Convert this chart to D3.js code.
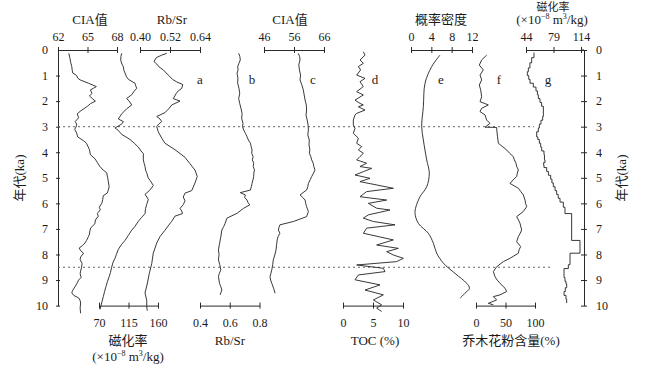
<!DOCTYPE html>
<html>
<head>
<meta charset="utf-8">
<script src="https://cdn.jsdelivr.net/npm/d3@7"></script>
<style>
  body { margin: 0; background: #fff; }
  text { font-family: "Liberation Serif", "Times New Roman", "Noto Sans CJK SC", serif; fill: #1a1a1a; }
  .domain, .tick line { stroke: #2a2a2a; }
</style>
</head>
<body>
<div id="chart"></div>
<script>
// Profile diagram: age (ka) on the vertical axis, seven proxies a-g side by side

var width = 650;
var height = 367;

// ---- data ----
var ageTicks = [0, 1, 2, 3, 4, 5, 6, 7, 8, 9, 10];
var dashedAges = [3, 8.5];
var panelLetters = ["a", "b", "c", "d", "e", "f", "g"];

// a: CIA (62-68)
var aCiaAge = [0.13, 0.3, 0.5, 0.65, 0.8, 0.9, 1.0, 1.1, 1.17, 1.3, 1.43, 1.5, 1.56, 1.7, 1.8, 1.9, 2.0, 2.1, 2.2, 2.4,
  2.5, 2.65, 2.8, 2.9, 3.0, 3.1, 3.25, 3.4, 3.55, 3.65, 3.9, 4.1, 4.25, 4.4, 4.55, 4.7, 4.8, 5.0, 5.1, 5.35, 5.5, 5.6,
  5.7, 5.85, 6.0, 6.15, 6.25, 6.4, 6.5, 6.65, 6.8, 6.95, 7.05, 7.2, 7.3, 7.45, 7.55, 7.65, 7.75, 7.85, 7.95, 8.1, 8.2,
  8.35, 8.5, 8.65, 8.75, 8.9, 9.0, 9.15, 9.25, 9.4, 9.5, 9.6, 9.7, 9.8, 9.9, 10.1, 10.3];
var aCiaVal = [63.1, 63.2, 63.3, 63.4, 63.45, 63.5, 63.9, 64.0, 64.25, 65.1, 65.9, 65.6, 65.3, 65.45, 65.2, 65.5, 65.8,
  65.3, 65.0, 64.25, 63.95, 64.1, 63.75, 63.9, 63.85, 63.7, 63.9, 64.0, 64.6, 64.9, 65.2, 65.3, 65.75, 66.0, 66.25,
  66.6, 66.95, 67.05, 67.1, 67.2, 67.1, 67.0, 66.6, 66.55, 66.45, 66.2, 66.3, 66.0, 66.1, 65.8, 65.75, 65.35, 65.25,
  65.2, 65.1, 64.9, 64.75, 64.5, 64.15, 64.3, 64.6, 64.3, 64.25, 64.45, 64.4, 64.3, 64.25, 64.35, 64.1, 63.9, 63.75,
  63.5, 63.4, 63.6, 64.1, 64.25, 64.3, 64.25, 64.3];

// a: magnetic susceptibility (70-160)
var aMsAge = [0.13, 0.25, 0.4, 0.55, 0.65, 0.8, 0.9, 1.05, 1.15, 1.3, 1.4, 1.5, 1.6, 1.75, 1.9, 2.0, 2.15, 2.3, 2.5,
  2.6, 2.7, 2.8, 2.9, 3.05, 3.1, 3.15, 3.3, 3.5, 3.65, 3.8, 3.95, 4.05, 4.3, 4.45, 4.55, 4.7, 4.8, 5.0, 5.1, 5.3, 5.4,
  5.5, 5.65, 5.75, 5.85, 6.05, 6.2, 6.4, 6.55, 6.7, 6.9, 7.05, 7.25, 7.45, 7.6, 7.8, 8.0, 8.15, 8.3, 8.5, 8.7, 8.85,
  9.05, 9.25, 9.45, 9.65, 9.85, 10.0, 10.15];
var aMsVal = [104.6, 103.5, 103.1, 105, 107.1, 108, 109.7, 112, 114.8, 124.9, 126, 127.5, 124, 119.9, 112.2, 116, 119.9,
  112.2, 104.6, 102, 99.5, 107.1, 104.6, 94.4, 97, 99.5, 104.6, 117.3, 124, 130, 134, 137.6, 137.6, 139, 140.2, 141,
  142.7, 145, 147.8, 152.9, 150, 146.8, 140.2, 143, 145.2, 142.7, 141, 140.2, 135, 130, 124.9, 119.9, 114.8, 109.7,
  104.6, 99.5, 96.5, 94.4, 91.5, 89.3, 87.5, 85.8, 83, 80.7, 78.5, 76.6, 74.5, 73.1, 71.5];

// a: Rb/Sr (0.40-0.64)
var aRbAge = [0.13, 0.2, 0.3, 0.45, 0.55, 0.65, 0.78, 0.9, 1.05, 1.15, 1.25, 1.35, 1.5, 1.6, 1.7, 1.9, 2.0, 2.15, 2.3,
  2.45, 2.6, 2.7, 2.8, 2.9, 3.0, 3.2, 3.45, 3.65, 3.9, 4.05, 4.2, 4.45, 4.7, 4.95, 5.2, 5.5, 5.6, 5.75, 5.9, 6.05, 6.2,
  6.3, 6.4, 6.5, 6.7, 6.85, 7.05, 7.3, 7.55, 7.95, 8.35, 8.75, 9.15, 9.5, 9.8, 10.05, 10.2];
var aRbVal = [0.507, 0.487, 0.465, 0.456, 0.467, 0.475, 0.493, 0.505, 0.52, 0.53, 0.547, 0.571, 0.567, 0.553, 0.545,
  0.533, 0.56, 0.527, 0.515, 0.50, 0.467, 0.48, 0.487, 0.475, 0.467, 0.473, 0.487, 0.50, 0.54, 0.56, 0.58, 0.60, 0.62,
  0.629, 0.62, 0.607, 0.58, 0.573, 0.58, 0.573, 0.56, 0.567, 0.57, 0.54, 0.527, 0.515, 0.50, 0.48, 0.467, 0.453,
  0.447, 0.437, 0.429, 0.42, 0.427, 0.427, 0.429];

// b: Rb/Sr (0.4-0.8)
var bAge = [0.13, 0.26, 0.39, 0.52, 0.65, 0.78, 0.91, 1.1, 1.3, 1.5, 1.7, 1.9, 2.09, 2.3, 2.48, 2.67, 2.87, 3.0, 3.13,
  3.26, 3.39, 3.52, 3.65, 3.78, 3.91, 4.04, 4.17, 4.3, 4.43, 4.56, 4.69, 4.82, 4.95, 5.08, 5.22, 5.35, 5.48, 5.58,
  5.67, 5.77, 5.87, 5.96, 6.06, 6.19, 6.39, 6.58, 6.78, 6.9, 7.04, 7.24, 7.43, 7.62, 7.82, 8.0, 8.21, 8.4, 8.6, 8.74,
  8.87, 9.0, 9.13, 9.26, 9.39, 9.5, 9.58];
var bVal = [0.660, 0.668, 0.671, 0.662, 0.653, 0.656, 0.649, 0.655, 0.653, 0.662, 0.667, 0.660, 0.667, 0.676, 0.683,
  0.680, 0.689, 0.686, 0.694, 0.705, 0.716, 0.725, 0.739, 0.744, 0.750, 0.748, 0.757, 0.752, 0.761, 0.758, 0.766,
  0.762, 0.761, 0.756, 0.750, 0.745, 0.739, 0.671, 0.705, 0.700, 0.716, 0.722, 0.734, 0.694, 0.649, 0.581, 0.569,
  0.560, 0.547, 0.542, 0.536, 0.530, 0.524, 0.528, 0.524, 0.533, 0.540, 0.530, 0.524, 0.528, 0.531, 0.540, 0.547,
  0.540, 0.536];

// c: CIA (46-66)
var cAge = [0.13, 0.26, 0.39, 0.58, 0.78, 0.98, 1.17, 1.36, 1.56, 1.76, 1.96, 2.15, 2.35, 2.55, 2.74, 2.94, 3.13, 3.32,
  3.52, 3.71, 3.91, 4.04, 4.17, 4.3, 4.43, 4.56, 4.69, 4.82, 4.95, 5.08, 5.22, 5.35, 5.48, 5.58, 5.67, 5.77, 5.87,
  6.0, 6.13, 6.32, 6.52, 6.71, 6.84, 6.94, 7.04, 7.17, 7.3, 7.43, 7.62, 7.82, 8.02, 8.21, 8.4, 8.6, 8.74, 8.87, 9.0,
  9.13, 9.32, 9.52];
var cVal = [57.4, 57.9, 58.0, 57.6, 57.8, 58.2, 58.0, 58.6, 59.1, 59.4, 59.7, 60.1, 60.2, 60.0, 60.4, 60.7, 60.8, 60.6,
  61.1, 61.0, 61.3, 61.1, 61.6, 61.9, 62.4, 62.6, 63.0, 62.5, 61.9, 61.4, 60.8, 60.6, 60.2, 59.0, 58.0, 58.9, 59.7,
  59.9, 60.2, 60.8, 60.2, 55.8, 51.3, 51.0, 50.8, 51.3, 50.7, 50.4, 50.2, 50.0, 49.6, 49.1, 48.9, 48.6, 48.3, 48.0,
  48.2, 48.6, 49.2, 49.7];

// d: TOC (%)
var dAge = [0.07, 0.2, 0.39, 0.52, 0.65, 0.78, 0.98, 1.11, 1.24, 1.43, 1.63, 1.76, 1.96, 2.09, 2.15, 2.22, 2.35, 2.48,
  2.54, 2.74, 2.93, 3.06, 3.26, 3.45, 3.65, 3.78, 3.91, 4.04, 4.17, 4.3, 4.43, 4.56, 4.63, 4.76, 4.89, 5.02, 5.15,
  5.41, 5.54, 5.74, 5.87, 6.0, 6.19, 6.26, 6.45, 6.58, 6.71, 6.84, 6.97, 7.17, 7.43, 7.63, 7.76, 7.89, 8.02, 8.15,
  8.28, 8.41, 8.54, 8.67, 8.8, 8.99, 9.19, 9.39, 9.58, 9.78, 9.97, 10.1, 10.23];
var dVal = [3.39, 3.67, 2.83, 3.39, 2.56, 2.94, 2.28, 3.67, 2.83, 3.39, 2.28, 3.39, 2.0, 2.83, 3.39, 2.56, 3.67, 2.28,
  2.0, 1.72, 1.72, 2.0, 1.72, 2.56, 2.28, 3.11, 2.56, 3.39, 2.83, 2.28, 3.94, 2.83, 4.78, 3.39, 2.0, 4.5, 2.83, 8.39,
  3.94, 2.83, 7.28, 4.22, 5.61, 7.83, 4.22, 3.39, 5.06, 8.67, 3.94, 3.39, 8.39, 5.61, 9.22, 7.28, 8.39, 10.06, 8.94,
  2.28, 6.72, 7.0, 2.56, 2.0, 6.17, 3.67, 6.72, 5.06, 6.44, 5.61, 6.44];

// e: probability density (0-12)
var eAge = [0.2, 0.65, 1.3, 2.22, 3.0, 3.52, 4.3, 4.82, 5.35, 5.74, 6.13, 6.39, 6.78, 7.17, 7.56, 7.95, 8.34, 8.74,
  9.13, 9.32, 9.52, 9.71];
var eVal = [5.7, 4.07, 2.76, 2.43, 2.1, 2.43, 3.09, 3.6, 3.09, 1.77, 0.98, 0.79, 1.44, 3.41, 4.4, 5.05, 6.37, 8.66,
  10.96, 11.5, 10.6, 9.65];

// f: arboreal pollen (%)
var fAge = [0.2, 0.39, 0.59, 0.78, 0.98, 1.17, 1.37, 1.56, 1.83, 2.02, 2.15, 2.28, 2.41, 2.54, 2.74, 2.87, 3.02, 3.03,
  3.2, 3.4, 3.65, 3.91, 4.04, 4.17, 4.3, 4.43, 4.56, 4.69, 4.82, 4.95, 5.08, 5.22, 5.41, 5.54, 5.67, 5.87, 6.0, 6.13,
  6.32, 6.52, 6.65, 6.78, 7.04, 7.17, 7.3, 7.5, 7.69, 7.82, 7.95, 8.15, 8.28, 8.48, 8.67, 8.87, 9.0, 9.13, 9.32,
  9.45, 9.58, 9.65, 9.78, 9.91, 9.97];
var fVal = [18.1, 9.6, 5.6, 12.4, 6.8, 9.6, 5.6, 7.9, 9.6, 6.8, 20.9, 9.6, 6.8, 15.3, 18.1, 23.7, 15.3, 35, 35.5, 36.5,
  37.9, 52, 57, 63.3, 65, 67.8, 69, 71.8, 70, 68.9, 63, 57.6, 71.8, 76, 80.2, 83.1, 84, 85.9, 80.2, 68.9, 72, 74.6,
  77.4, 75, 71.8, 68.9, 75.7, 73, 71.8, 57.6, 46.3, 35, 29.4, 32.2, 36, 40.7, 49.2, 52, 40.7, 29.4, 35, 20.9, 29.4];

// g: magnetic susceptibility (44-114), stepped
var gAge = [0.1, 0.3, 0.5, 0.7, 0.85, 1.0, 1.15, 1.3, 1.45, 1.6, 1.75, 1.9, 2.05, 2.2, 2.6, 2.75, 2.9, 3.05, 3.2, 3.4,
  3.5, 3.65, 3.8, 3.95, 4.1, 4.3, 4.4, 4.5, 4.6, 4.75, 4.9, 5.05, 5.2, 5.35, 5.5, 5.65, 5.8, 5.95, 6.15, 6.4, 7.45,
  7.95, 8.4, 8.55, 8.9, 9.05, 9.15, 9.3, 9.45, 9.6, 9.75, 9.9];
var gVal = [54.2, 51.2, 49, 47, 45.7, 47.5, 49.1, 53.3, 56.7, 58.5, 59.7, 61.8, 63.9, 66.1, 65.2, 63, 61, 59.7, 57.6,
  59, 61, 62.7, 64, 66.9, 67.5, 68.2, 66.5, 66.9, 70.3, 72.5, 75.4, 77, 78.8, 81, 83, 85, 87.3, 91.5, 93.6, 102.1,
  112.7, 100, 97.9, 92.4, 93.6, 94.9, 95.8, 94, 92.4, 94.9, 95.8, 95.8];

// ---- canvas ----
var svg = d3.select("#chart")
  .append("svg")
  .attr("width", width)
  .attr("height", height);

svg.append("rect").attr("width", width).attr("height", height).attr("fill", "#fff");

var y = d3.scaleLinear().domain([0, 10]).range([50, 305.6]);
var yTop = 50, yBottom = 305.6;

// helper: one horizontal value axis, ticks crossing the line
function valueAxis(scale, ticks, where, fmt) {
  var ax = (where === "top" ? d3.axisTop(scale) : d3.axisBottom(scale))
    .tickValues(ticks)
    .tickSizeInner(3)
    .tickSizeOuter(0)
    .tickPadding(where === "top" ? 6 : 10)
    .tickFormat(fmt || d3.format(""));
  var g = svg.append("g")
    .attr("transform", "translate(0," + (where === "top" ? yTop : yBottom) + ")")
    .call(ax);
  g.selectAll(".tick line").attr("y1", -3).attr("y2", 3);
  g.selectAll("text").attr("font-size", 12).attr("fill", "#1a1a1a");
  return g;
}

function drawCurve(ages, vals, xs, curve) {
  var pts = ages.map(function(a, i) { return [vals[i], a]; });
  svg.append("path")
    .datum(pts)
    .attr("fill", "none")
    .attr("stroke", "#222")
    .attr("stroke-width", 0.9)
    .attr("d", d3.line()
      .x(function(d) { return xs(d[0]); })
      .y(function(d) { return y(d[1]); })
      .curve(curve || d3.curveLinear));
}

// ---- x scales ----
var xCiaA = d3.scaleLinear().domain([62, 68]).range([58, 117]);
var xRbA = d3.scaleLinear().domain([0.40, 0.64]).range([140, 200]);
var xCiaC = d3.scaleLinear().domain([46, 66]).range([264, 324]);
var xDens = d3.scaleLinear().domain([0, 12]).range([411, 472]);
var xMsG = d3.scaleLinear().domain([44, 114]).range([526, 581]);

var xMsA = d3.scaleLinear().domain([70, 160]).range([99, 158]);
var xRbB = d3.scaleLinear().domain([0.4, 0.8]).range([200, 259.5]);
var xToc = d3.scaleLinear().domain([0, 10]).range([343, 403]);
var xPol = d3.scaleLinear().domain([0, 100]).range([476, 535]);

// ---- top axes ----
valueAxis(xCiaA, [62, 65, 68], "top");
valueAxis(xRbA, [0.40, 0.52, 0.64], "top", d3.format(".2f"));
valueAxis(xCiaC, [46, 56, 66], "top");
valueAxis(xDens, [0, 4, 8, 12], "top");
valueAxis(xMsG, [44, 79, 114], "top");
// g axis line runs on to the right age axis
svg.append("line").attr("x1", 581).attr("x2", 584).attr("y1", yTop).attr("y2", yTop).attr("stroke", "#2a2a2a");

// ---- bottom axes ----
valueAxis(xMsA, [70, 115, 160], "bottom");
valueAxis(xRbB, [0.4, 0.6, 0.8], "bottom", d3.format(".1f"));
valueAxis(xToc, [0, 5, 10], "bottom");
valueAxis(xPol, [0, 50, 100], "bottom");

// ---- age axes, left and right ----
var leftAx = svg.append("g").attr("transform", "translate(58,0)")
  .call(d3.axisLeft(y).tickValues(ageTicks).tickSizeInner(2).tickSizeOuter(0).tickPadding(8));
leftAx.selectAll(".tick line").attr("x1", -2).attr("x2", 2);
leftAx.selectAll("text").attr("font-size", 12);
leftAx.select(".tick:first-of-type line").attr("x1", 0);

var rightAx = svg.append("g").attr("transform", "translate(584,0)")
  .call(d3.axisRight(y).tickValues(ageTicks).tickSizeInner(2).tickSizeOuter(0).tickPadding(10));
rightAx.selectAll(".tick line").attr("x1", -3).attr("x2", 3);
rightAx.selectAll("text").attr("font-size", 12);

// age titles
svg.append("text").attr("transform", "translate(24,178)rotate(-90)")
  .attr("text-anchor", "middle").attr("font-size", 13).text("年代(ka)");
svg.append("text").attr("transform", "translate(626,178)rotate(-90)")
  .attr("text-anchor", "middle").attr("font-size", 13).text("年代(ka)");

// ---- dashed age markers ----
svg.selectAll(".dash")
  .data(dashedAges)
  .enter().append("line")
  .attr("x1", 58)
  .attr("x2", function(d) { return d === 3 ? 534 : 552; })
  .attr("y1", function(d) { return y(d); })
  .attr("y2", function(d) { return y(d); })
  .attr("stroke", "#666")
  .attr("stroke-width", 1)
  .attr("stroke-dasharray", "2,3");

// ---- curves ----
drawCurve(aCiaAge, aCiaVal, xCiaA);
drawCurve(aMsAge, aMsVal, xMsA);
drawCurve(aRbAge, aRbVal, xRbA);
drawCurve(bAge, bVal, xRbB);
drawCurve(cAge, cVal, xCiaC);
drawCurve(dAge, dVal, xToc);
drawCurve(eAge, eVal, xDens, d3.curveCatmullRom);
drawCurve(fAge, fVal, xPol);
drawCurve(gAge, gVal, xMsG, d3.curveStepBefore);

// ---- panel letters ----
var letterX = [200, 252, 313, 375, 441, 499, 548];
svg.selectAll(".letter")
  .data(panelLetters)
  .enter().append("text")
  .attr("x", function(d, i) { return letterX[i]; })
  .attr("y", 84)
  .attr("text-anchor", "middle")
  .attr("font-size", 13)
  .text(function(d) { return d; });

// ---- axis titles ----
function title(x, yy, txt, size) {
  return svg.append("text").attr("x", x).attr("y", yy)
    .attr("text-anchor", "middle").attr("font-size", size || 13).text(txt);
}
function unitTitle(x, yy) {
  var t = svg.append("text").attr("x", x).attr("y", yy)
    .attr("text-anchor", "middle").attr("font-size", 13);
  t.append("tspan").text("(×10");
  t.append("tspan").attr("font-size", 8).attr("dy", -5).text("−8");
  t.append("tspan").attr("dy", 5).text(" m");
  t.append("tspan").attr("font-size", 8).attr("dy", -5).text("3");
  t.append("tspan").attr("dy", 5).text("/kg)");
}

title(90, 24, "CIA值");
title(172, 24, "Rb/Sr");
title(290, 24, "CIA值");
title(441, 24, "概率密度");
title(553, 11, "磁化率", 11);
unitTitle(552, 24);

title(128, 345, "磁化率");
unitTitle(128, 361);
title(230, 345, "Rb/Sr");
title(375, 345, "TOC (%)");
title(511, 345, "乔木花粉含量(%)");
</script>
</body>
</html>
